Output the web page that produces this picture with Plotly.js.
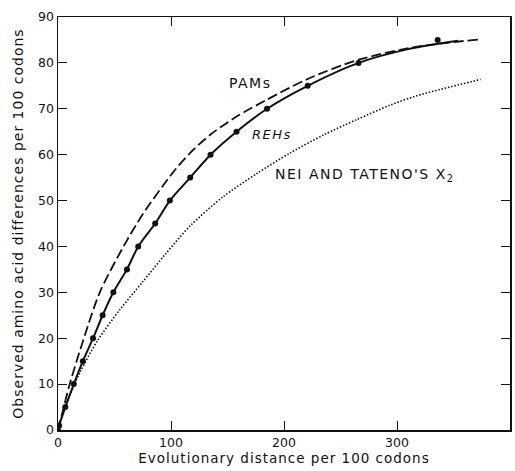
<!DOCTYPE html>
<html>
<head>
<meta charset="utf-8">
<script src="https://cdn.plot.ly/plotly-3.0.1.min.js"></script>
<style>
  html, body { margin: 0; padding: 0; background: #fff; }
  #chart { width: 515px; height: 471px; }
  .xtitle, .ytitle { letter-spacing: 1px; }
  .annotation-text { letter-spacing: 1.5px; }
</style>
</head>
<body>
<div id="chart"></div>
<script>
// PAMs (dashed curve)
const pamX = [0, 5, 10.6, 22.4, 37, 58, 75.5, 102, 117, 135, 158, 185, 221, 266, 317, 372];
const pamY = [0, 4.9, 10.2, 19.6, 30, 40, 47.2, 56.2, 60.4, 64.4, 68.3, 72, 76.5, 80.7, 83.5, 85.1];

// REHs (solid curve)
const rehLineX = [0, 1, 6.5, 14, 22, 31, 39.5, 49, 61, 71, 86, 99, 117, 135, 158, 185, 221, 266, 310, 354];
const rehLineY = [0, 1, 5, 10, 15, 20, 25, 30, 35, 40, 45, 50, 55, 60, 65, 70, 75, 80, 83, 84.8];

// REHs data points (dots)
const rehPtX = [0, 1, 6.5, 14, 22, 31, 39.5, 49, 61, 71, 86, 99, 117, 135, 158, 185, 221, 266, 336];
const rehPtY = [0, 1, 5, 10, 15, 20, 25, 30, 35, 40, 45, 50, 55, 60, 65, 70, 75, 80, 85];

// Nei and Tateno's X2 (dotted curve)
const neiX = [0, 5, 10, 20, 35, 55, 75, 95, 117, 146, 176, 205, 235, 264, 294, 317, 374];
const neiY = [0, 4, 7.3, 12.8, 19.5, 26.3, 32.3, 38.3, 44.5, 50.8, 55.9, 60.3, 64.3, 67.6, 70.8, 72.8, 76.4];

const xTicks = [0, 100, 200, 300, 400];
const yTicks = [0, 10, 20, 30, 40, 50, 60, 70, 80, 90];

const labels = [
  {text: 'PAMs', x: 170, y: 75.6, italic: false, size: 14},
  {text: 'REHs', x: 189.5, y: 64.5, italic: true, size: 13},
  {text: 'NEI AND TATENO\'S X<sub>2</sub>', x: 272, y: 55.6, italic: false, size: 14}
];

const FONT = 'DejaVu Sans, sans-serif';

const traces = [
  {x: pamX, y: pamY, mode: 'lines', line: {color: '#111', width: 1.8, dash: '10px,4px', shape: 'spline', smoothing: 0.8}, hoverinfo: 'skip'},
  {x: neiX, y: neiY, mode: 'lines', line: {color: '#111', width: 1.6, dash: '1.5px,1.8px', shape: 'spline', smoothing: 0.8}, hoverinfo: 'skip'},
  {x: rehLineX, y: rehLineY, mode: 'lines', line: {color: '#111', width: 2, shape: 'spline', smoothing: 0.8}, hoverinfo: 'skip'},
  {x: rehPtX, y: rehPtY, mode: 'markers', marker: {color: '#111', size: 6}, hoverinfo: 'skip'}
];

const layout = {
  width: 515, height: 471,
  margin: {l: 58, r: 5, t: 17, b: 41},
  paper_bgcolor: '#fff', plot_bgcolor: '#fff',
  showlegend: false,
  font: {family: FONT, color: '#111', size: 12},
  xaxis: {
    range: [0, 400], tickvals: xTicks, ticktext: xTicks.map(String),
    ticks: 'inside', ticklen: 9, tickwidth: 1, tickcolor: '#111',
    showline: true, linecolor: '#111', linewidth: 1.5, mirror: 'ticks',
    showgrid: false, zeroline: false,
    tickfont: {family: FONT, size: 12.5, color: '#111'},
    title: {text: 'Evolutionary distance per 100 codons', font: {family: FONT, size: 13.5, color: '#111'}, standoff: 5}
  },
  yaxis: {
    range: [0, 90], tickvals: yTicks, ticktext: yTicks.map(String),
    ticks: 'inside', ticklen: 9, tickwidth: 1, tickcolor: '#111',
    showline: true, linecolor: '#111', linewidth: 1.5, mirror: 'ticks',
    showgrid: false, zeroline: false,
    tickfont: {family: FONT, size: 12.5, color: '#111'},
    title: {text: 'Observed amino acid differences per 100 codons', font: {family: FONT, size: 14, color: '#111'}, standoff: 11}
  },
  annotations: labels.map(l => ({
    x: l.x, y: l.y, xref: 'x', yref: 'y', showarrow: false,
    text: l.italic ? '<i>' + l.text + '</i>' : l.text,
    font: {family: FONT, size: l.size, color: '#111'}
  }))
};

Plotly.newPlot('chart', traces, layout, {staticPlot: true, displayModeBar: false});
</script>
</body>
</html>
